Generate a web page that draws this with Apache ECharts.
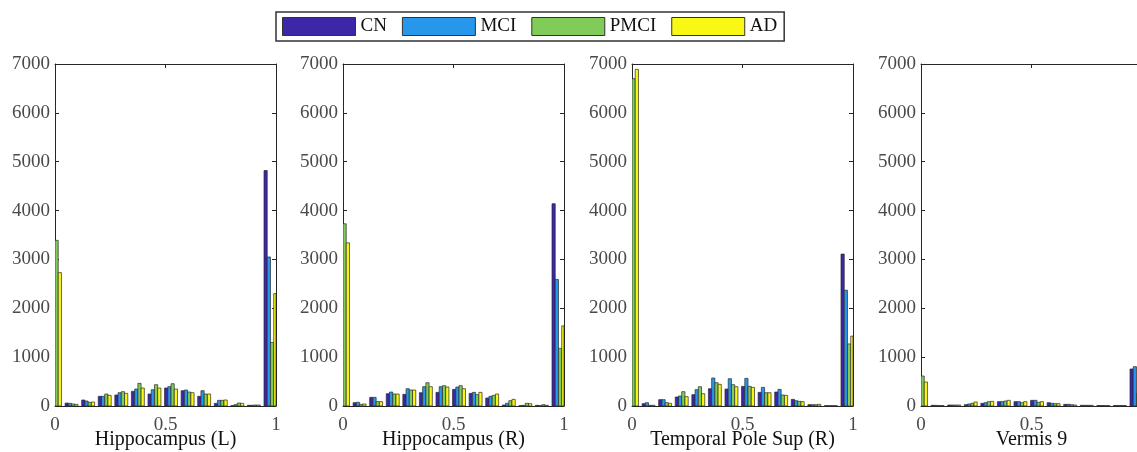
<!DOCTYPE html>
<html>
<head>
<meta charset="utf-8">
<script src="https://cdn.jsdelivr.net/npm/echarts@6/dist/echarts.min.js"></script>
<style>html,body{margin:0;padding:0;background:#fff;}#c{width:1137px;height:452px;}</style>
</head>
<body>
<div id="c"></div>
<script>
const binCenters = [0, 0.075, 0.15, 0.225, 0.3, 0.375, 0.45, 0.525, 0.6, 0.675, 0.75, 0.825, 0.9, 0.975];
const groups = ['CN', 'MCI', 'PMCI', 'AD'];
const regions = ['Hippocampus (L)', 'Hippocampus (R)', 'Temporal Pole Sup (R)', 'Vermis 9'];
const xTicks = [0, 0.5, 1];
const yTicks = [0, 1000, 2000, 3000, 4000, 5000, 6000, 7000];

const hippoL_CN   = [3100, 60, 123, 198, 225, 300, 245, 368, 313, 198, 55, 7, 15, 4820];
const hippoL_MCI  = [3250, 55, 102, 198, 272, 347, 333, 395, 327, 313, 116, 27, 15, 3050];
const hippoL_PMCI = [3390, 40, 75, 245, 293, 463, 436, 456, 286, 245, 116, 61, 20, 1300];
const hippoL_AD   = [2730, 34, 82, 218, 259, 368, 368, 347, 272, 245, 123, 55, 20, 2300];

const hippoR_CN   = [3500, 68, 177, 252, 239, 272, 279, 340, 259, 164, 20, 7, 14, 4140];
const hippoR_MCI  = [3600, 75, 177, 286, 354, 395, 395, 388, 279, 198, 55, 14, 7, 2590];
const hippoR_PMCI = [3730, 34, 89, 245, 327, 477, 416, 416, 232, 218, 109, 55, 27, 1180];
const hippoR_AD   = [3340, 41, 89, 245, 327, 395, 388, 354, 279, 245, 136, 48, 14, 1640];

const tpsR_CN   = [6500, 48, 130, 184, 232, 354, 347, 402, 279, 286, 136, 27, 7, 3110];
const tpsR_MCI  = [6600, 68, 130, 205, 334, 573, 559, 566, 381, 340, 109, 27, 7, 2370];
const tpsR_PMCI = [6700, 14, 68, 293, 395, 477, 436, 402, 272, 225, 95, 27, 7, 1270];
const tpsR_AD   = [6890, 14, 55, 191, 252, 443, 395, 381, 272, 218, 89, 34, 7, 1430];

const vermis_CN   = [550, 14, 20, 27, 55, 89, 89, 116, 68, 34, 14, 10, 10, 757];
const vermis_MCI  = [580, 14, 20, 41, 68, 89, 89, 116, 55, 34, 14, 10, 10, 805];
const vermis_PMCI = [614, 10, 20, 55, 89, 102, 68, 75, 48, 27, 14, 10, 10, 259];
const vermis_AD   = [491, 10, 20, 82, 95, 116, 89, 89, 48, 20, 14, 10, 10, 400];

const panels = [
  [hippoL_CN, hippoL_MCI, hippoL_PMCI, hippoL_AD],
  [hippoR_CN, hippoR_MCI, hippoR_PMCI, hippoR_AD],
  [tpsR_CN, tpsR_MCI, tpsR_PMCI, tpsR_AD],
  [vermis_CN, vermis_MCI, vermis_PMCI, vermis_AD]
];

const colors = ['#3E26A8', '#2797EB', '#81CC59', '#F9F714'];
const FONT = 'Liberation Serif';
const gridLefts = [55, 343, 632, 921];
const axisCol = '#262626';
const edgeCol = '#2a2a2a';
const binWidth = binCenters[1] - binCenters[0];
const groupFrac = 0.78;

function makeRenderItem(j) {
  return function (params, api) {
    const x = api.value(0), y = api.value(1);
    const base = api.coord([x, 0]);
    const top = api.coord([x, y]);
    const bw = api.size([binWidth, 0])[0];
    const groupW = bw * groupFrac;
    const w = groupW / groups.length;
    const left = base[0] - groupW / 2 + j * w;
    const cs = params.coordSys;
    const rect = echarts.graphic.clipRectByRect(
      {x: left, y: top[1], width: w, height: base[1] - top[1]},
      {x: cs.x, y: cs.y, width: cs.width, height: cs.height}
    );
    if (!rect) return null;
    return {
      type: 'rect', shape: rect,
      style: {fill: colors[j], stroke: edgeCol, lineWidth: 0.7}
    };
  };
}

const grid = [], xAxis = [], yAxis = [], series = [];
panels.forEach((panel, i) => {
  grid.push({left: gridLefts[i], top: 64, width: 221, height: 342, show: false, outerBoundsMode: 'none', containLabel: false});
  const common = {
    type: 'value', gridIndex: i,
    axisLine: {show: true, onZero: false, lineStyle: {color: axisCol, width: 1}},
    axisTick: {show: true, inside: true, length: 4, lineStyle: {color: axisCol}},
    splitLine: {show: false}
  };
  xAxis.push(Object.assign({}, common, {
    position: 'bottom', min: xTicks[0], max: xTicks[xTicks.length - 1], interval: 0.5,
    axisLabel: {color: '#4a4a4a', fontFamily: FONT, fontSize: 19, margin: 10},
    name: regions[i], nameLocation: 'middle', nameGap: 24, nameMoveOverlap: false,
    nameTextStyle: {color: '#111', fontFamily: FONT, fontSize: 20}
  }));
  xAxis.push(Object.assign({}, common, {
    position: 'top', min: xTicks[0], max: xTicks[xTicks.length - 1], interval: 0.5,
    axisLabel: {show: false}
  }));
  yAxis.push(Object.assign({}, common, {
    position: 'left', min: yTicks[0], max: yTicks[yTicks.length - 1], interval: 1000,
    axisLabel: {color: '#4a4a4a', fontFamily: FONT, fontSize: 19, margin: 5, formatter: v => String(v)}
  }));
  yAxis.push(Object.assign({}, common, {
    position: 'right', min: yTicks[0], max: yTicks[yTicks.length - 1], interval: 1000,
    axisLabel: {show: false}
  }));
  panel.forEach((vals, j) => {
    series.push({
      name: groups[j], type: 'custom',
      xAxisIndex: 2 * i, yAxisIndex: 2 * i,
      data: binCenters.map((x, k) => [x, vals[k]]),
      encode: {x: 0, y: 1},
      renderItem: makeRenderItem(j),
      clip: true,
      itemStyle: {color: colors[j], borderColor: edgeCol, borderWidth: 1},
      emphasis: {disabled: true},
      silent: true
    });
  });
});

const chart = echarts.init(document.getElementById('c'), null, {renderer: 'canvas'});
chart.setOption({
  animation: false,
  color: colors,
  legend: {
    data: groups.map((g, j) => ({name: g, icon: 'rect', itemStyle: {color: colors[j], borderColor: '#333', borderWidth: 1}})),
    left: 276, top: 12,
    itemWidth: 73, itemHeight: 18, itemGap: 15,
    padding: [5, 7, 5, 6],
    borderColor: '#333', borderWidth: 1.5,
    textStyle: {color: '#111', fontFamily: FONT, fontSize: 19}
  },
  grid: grid, xAxis: xAxis, yAxis: yAxis, series: series
});
</script>
</body>
</html>
